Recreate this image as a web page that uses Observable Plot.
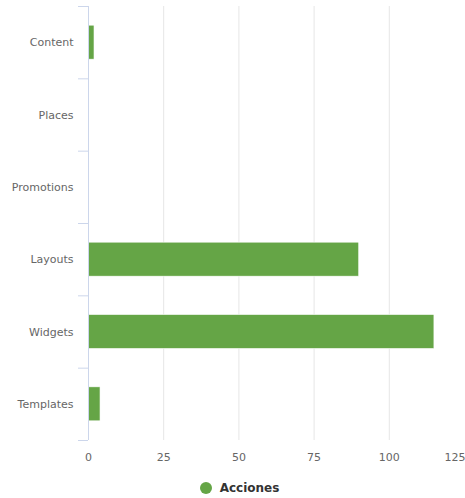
<!DOCTYPE html>
<html>
<head>
<meta charset="utf-8">
<script src="https://cdn.jsdelivr.net/npm/d3@7"></script>
<script src="https://cdn.jsdelivr.net/npm/@observablehq/plot@0.6"></script>
<style>
  html, body { margin: 0; padding: 0; background: #fff; }
  #chart { width: 465px; }
  .legend { display: flex; align-items: center; justify-content: center; height: 36px; padding-left: 14px;
    font-family: "Lucida Grande", "DejaVu Sans", sans-serif; font-size: 12px; font-weight: bold; color: #333; }
  .legend .dot { width: 12px; height: 12px; border-radius: 50%; background: #65a546; margin-right: 8px; }
</style>
</head>
<body>
<div id="chart"></div>
<script>
const categories = ["Content", "Places", "Promotions", "Layouts", "Widgets", "Templates"];
const acciones = [2, 0, 0, 90, 115, 4];
const xTicks = [0, 25, 50, 75, 100, 125];
const seriesName = "Acciones";

const data = categories.map((c, i) => ({ cat: c, i, value: acciones[i] }));
const font = "\"Lucida Grande\", \"DejaVu Sans\", sans-serif";

const chart = Plot.plot({
  width: 465,
  height: 470,
  marginTop: 6,
  marginBottom: 30,
  marginLeft: 88,
  marginRight: 1,
  style: { fontFamily: font, fontSize: "11px", color: "#666666", background: "#fff" },
  x: { domain: [0, 125], label: null },
  y: { domain: [0, categories.length], reverse: true, label: null },
  marks: [
    Plot.ruleX(xTicks.slice(1, -1), { stroke: "#e6e6e6", strokeWidth: 1 }),
    Plot.rectX(data, { x1: 0, x2: "value", y1: d => d.i + 0.265, y2: d => d.i + 0.735, fill: "#65a546", stroke: "#fff", strokeWidth: 0.6 }),
    Plot.ruleX([0], { stroke: "#ccd6eb", strokeWidth: 1 }),
    Plot.axisY(d3.range(categories.length + 1), { tickSize: 10, tickFormat: () => "", stroke: "#ccd6eb", label: null }),
    Plot.axisY(categories.map((c, i) => i + 0.5), { tickSize: 0, tickPadding: 15, tickFormat: (d) => categories[Math.floor(d)], fill: "#666666", fontSize: 11, label: null }),
    Plot.axisX(xTicks.slice(0, -1), { tickSize: 0, tickPadding: 13, fill: "#666666", fontSize: 11, label: null }),
    Plot.axisX(xTicks.slice(-1), { tickSize: 0, tickPadding: 13, textAnchor: "end", dx: 1, fill: "#666666", fontSize: 11, label: null })
  ]
});
document.getElementById("chart").appendChild(chart);

const legend = document.createElement("div");
legend.className = "legend";
legend.innerHTML = `<span class="dot"></span><span>${seriesName}</span>`;
document.getElementById("chart").appendChild(legend);
</script>
</body>
</html>
